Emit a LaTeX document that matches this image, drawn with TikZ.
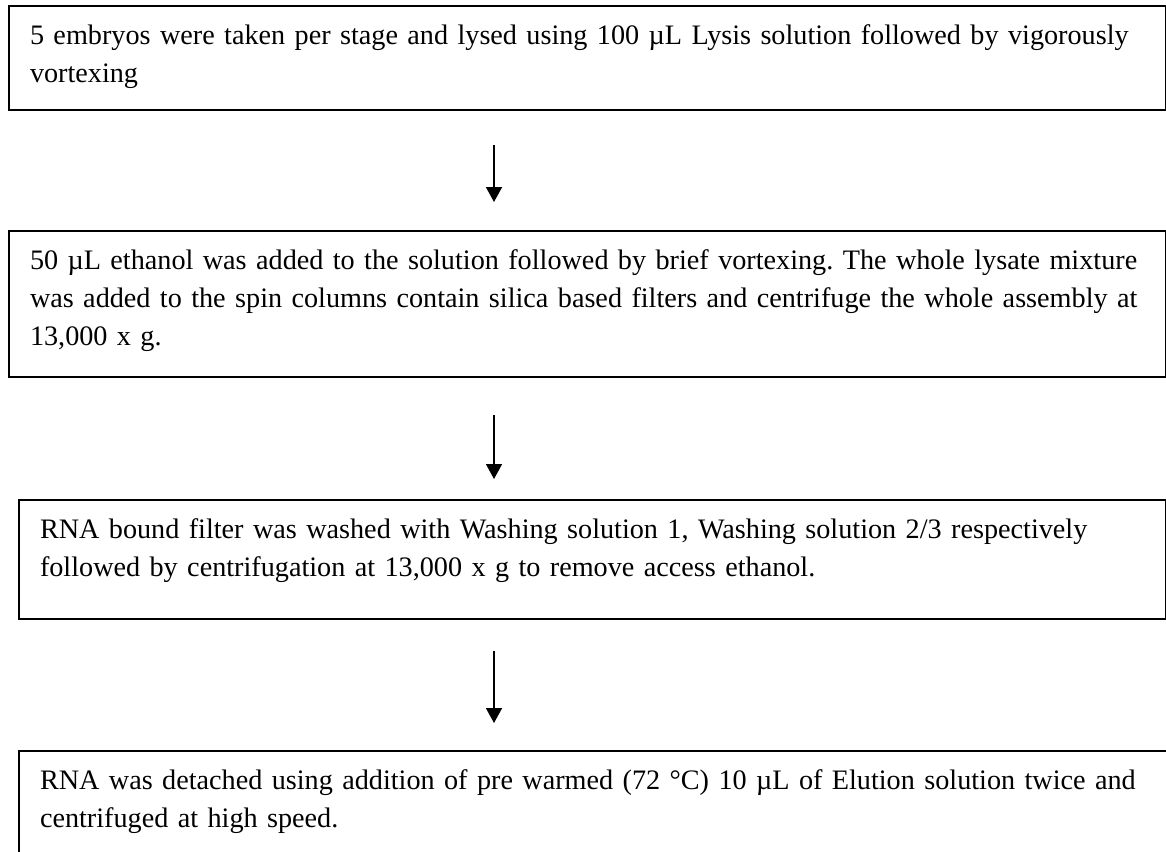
\documentclass[tikz,border=0pt]{standalone}
\usepackage{fontspec}
\setmainfont{Liberation Serif}
\usetikzlibrary{arrows.meta,positioning}
\tikzset{
  stepbox/.style={draw, line width=1pt, anchor=north west, inner xsep=10.5pt, inner ysep=0pt,
    align=left, text height=19pt, font=\fontsize{14.1}{19}\selectfont\frenchspacing},
  flowarrow/.style={-{Triangle[width=8pt,length=7.5pt]}, line width=0.8pt}
}
\begin{document}
\begin{tikzpicture}[x=0.5pt,y=-0.5pt]
  \clip (0,0) rectangle (1166,851);

  \node[stepbox, text width=557.5pt, text depth=33pt] (lysis) at (8,5)
    {5 embryos were taken per stage and lysed using 100 µL Lysis solution followed by vigorously\\
     vortexing};
  \node[stepbox, text width=557.5pt, text depth=54pt] (bind) at (8,230)
    {50 µL ethanol was added to the solution followed by brief vortexing. The whole lysate mixture\\
     was added to the spin columns contain silica based filters and centrifuge the whole assembly at\\
     13,000 x g.};
  \node[stepbox, text width=552.5pt, text depth=40.5pt] (wash) at (18,499)
    {RNA bound filter was washed with Washing solution 1, Washing solution 2/3 respectively\\
     followed by centrifugation at 13,000 x g to remove access ethanol.};
  \node[stepbox, text width=559pt, text depth=50pt] (elute) at (18,750)
    {RNA was detached using addition of pre warmed (72 °C) 10 µL of Elution solution twice and\\
     centrifuged at high speed.};

  \draw[flowarrow] ([xshift=243pt,yshift=-17pt]lysis.south west) -- ([xshift=243pt,yshift=14pt]bind.north west);
  \draw[flowarrow] ([xshift=243pt,yshift=-18.5pt]bind.south west) -- ([xshift=238pt,yshift=10pt]wash.north west);
  \draw[flowarrow] ([xshift=238pt,yshift=-15.5pt]wash.south west) -- ([xshift=238pt,yshift=13.5pt]elute.north west);
\end{tikzpicture}
\end{document}
